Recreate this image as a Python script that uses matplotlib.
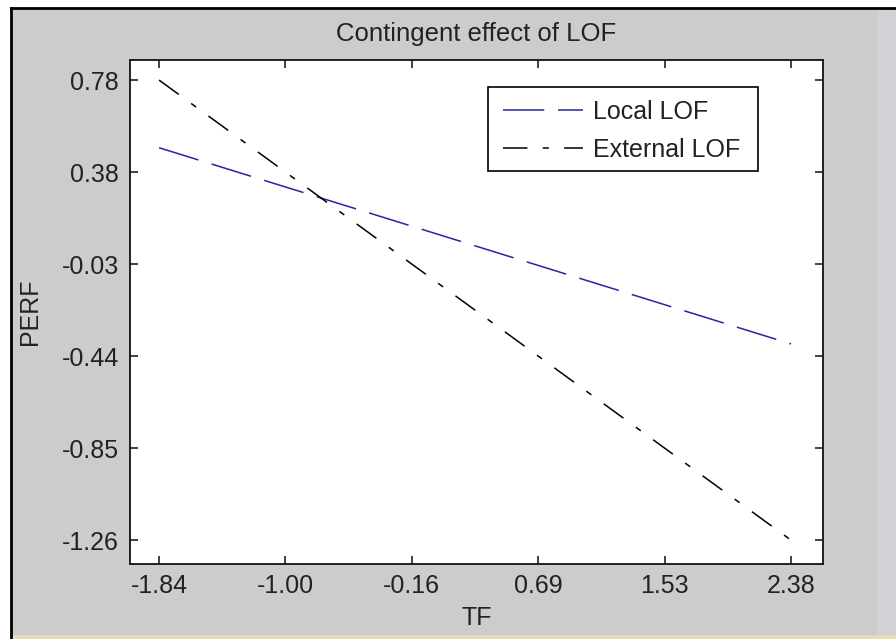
#contingent effect of LOF on PERF, matlab style figure

import numpy as np
import matplotlib
matplotlib.use('Agg')
import matplotlib.pyplot as plt
from matplotlib.patches import Rectangle

plt.rcParams['font.family'] = ['Liberation Sans', 'DejaVu Sans']
plt.rcParams['font.size'] = 18

#data
tf = [-1.84, 2.38]
local_lof = [0.48, -0.39]
external_lof = [0.78, -1.26]
xtick_labels = ['-1.84', '-1.00', '-0.16', '0.69', '1.53', '2.38']
ytick_labels = ['-1.26', '-0.85', '-0.44', '-0.03', '0.38', '0.78']

W, H = 896, 639
fig = plt.figure(figsize=(W/100, H/100), dpi=100, facecolor='white')

#grey figure panel with black edge on left and top, beige strip at the bottom
fig.patches.append(Rectangle((11/W, 4/H), 1, 1-12/H, transform=fig.transFigure,
                             facecolor='#cccccc', edgecolor='none', zorder=-3))
fig.patches.append(Rectangle((877/W, 4/H), 1, 1-12/H, transform=fig.transFigure,
                             facecolor='#d2d2d6', edgecolor='none', zorder=-2))
fig.patches.append(Rectangle((11/W, 0), 1, 4/H, transform=fig.transFigure,
                             facecolor='#e6dcb8', edgecolor='none', zorder=-2))
fig.lines.append(plt.Line2D([11/W, 11/W], [0, 1-8/H], transform=fig.transFigure, color='black', lw=2))
fig.lines.append(plt.Line2D([11/W, 1], [1-8/H, 1-8/H], transform=fig.transFigure, color='black', lw=2))

ax = fig.add_axes([130/W, 1-564/H, (823-130)/W, (564-60)/H])
ax.set_facecolor('white')

ax.plot(tf, local_lof, color='#2626a0', lw=1.1, dashes=(27, 9), label='Local LOF')
ax.plot(tf, external_lof, color='black', lw=1.1, dashes=(16, 10, 4, 10), label='External LOF')

ax.set_xlim(-2.034, 2.594)
ax.set_ylim(-1.366, 0.869)
ax.set_xticks(np.linspace(tf[0], tf[1], len(xtick_labels)))
ax.set_xticklabels(xtick_labels)
ax.set_yticks(np.linspace(external_lof[1], external_lof[0], len(ytick_labels)))
ax.set_yticklabels(ytick_labels)
ax.tick_params(direction='in', length=6, width=1.2, top=True, right=True, colors='#222222')
ax.tick_params(axis='x', pad=7)
ax.tick_params(axis='y', pad=8)
for s in ax.spines.values():
    s.set_linewidth(1.3)
    s.set_color('#111111')

ax.set_title('Contingent effect of LOF', fontsize=18.5, pad=14, color='#222222')
ax.set_xlabel('TF', labelpad=6, color='#222222')
ax.set_ylabel('PERF', labelpad=14, color='#222222')

#legend box drawn separately so the padding matches
ax.add_patch(Rectangle((488/W, 1-171/H), (758-488)/W, (171-87)/H, transform=fig.transFigure,
                       facecolor='white', edgecolor='black', lw=1.2, zorder=4))
leg = ax.legend(loc='upper left', bbox_to_anchor=(503/W, 1-100/H), bbox_transform=fig.transFigure,
                borderaxespad=0, borderpad=0, handlelength=3.2, handletextpad=0.4,
                labelspacing=0.55, frameon=False)
leg.set_zorder(5)
for t in leg.get_texts():
    t.set_color('#222222')

plt.savefig('out.png', dpi=100, facecolor=fig.get_facecolor())
